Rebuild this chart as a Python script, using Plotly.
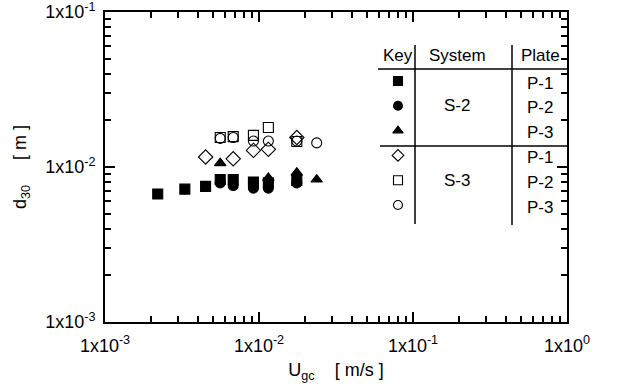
import plotly.graph_objects as go

# Superficial gas velocity U_gc [m/s] and bubble diameter d30 [m]
s2_p1_u = [2.2e-3, 3.3e-3, 4.5e-3, 5.6e-3, 6.8e-3, 9.2e-3, 1.15e-2, 1.76e-2]
s2_p1_d = [6.7e-3, 7.2e-3, 7.5e-3, 8.3e-3, 8.3e-3, 8.0e-3, 7.9e-3, 8.2e-3]

s2_p2_u = [5.6e-3, 6.8e-3, 9.2e-3, 1.15e-2, 1.76e-2]
s2_p2_d = [7.9e-3, 7.6e-3, 7.3e-3, 7.3e-3, 7.9e-3]

s2_p3_u = [5.6e-3, 1.15e-2, 1.76e-2, 2.37e-2]
s2_p3_d = [1.06e-2, 8.5e-3, 9.2e-3, 8.3e-3]

s3_p1_u = [4.5e-3, 6.8e-3, 9.2e-3, 1.15e-2, 1.76e-2]
s3_p1_d = [1.16e-2, 1.13e-2, 1.28e-2, 1.30e-2, 1.55e-2]

s3_p2_u = [5.6e-3, 6.8e-3, 9.2e-3, 1.15e-2, 1.76e-2]
s3_p2_d = [1.55e-2, 1.57e-2, 1.60e-2, 1.80e-2, 1.46e-2]

s3_p3_u = [5.6e-3, 6.8e-3, 9.2e-3, 1.15e-2, 1.76e-2, 2.37e-2]
s3_p3_d = [1.53e-2, 1.55e-2, 1.47e-2, 1.47e-2, 1.47e-2, 1.43e-2]

x_major = [1e-3, 1e-2, 1e-1, 1e0]
x_labels = ["1x10<sup>-3</sup>", "1x10<sup>-2</sup>", "1x10<sup>-1</sup>", "1x10<sup>0</sup>"]
y_major = [1e-3, 1e-2, 1e-1]
y_labels = ["1x10<sup>-3</sup>", "1x10<sup>-2</sup>", "1x10<sup>-1</sup>"]

# Key table rows: system, plate, marker symbol
systems = ["S-2", "S-3"]
plates = ["P-1", "P-2", "P-3"]
key_symbols = ["square", "circle", "triangle-up",
               "diamond-open", "square-open", "circle-open"]

FONT = "Liberation Sans, Arial, sans-serif"

series = [
    (s2_p1_u, s2_p1_d, "square", 10),
    (s2_p2_u, s2_p2_d, "circle", 10),
    (s2_p3_u, s2_p3_d, "triangle-up", 10),
    (s3_p1_u, s3_p1_d, "diamond-open", 11),
    (s3_p2_u, s3_p2_d, "square-open", 10),
    (s3_p3_u, s3_p3_d, "circle-open", 10),
]

fig = go.Figure()
for u, d, sym, sz in series:
    fig.add_trace(go.Scatter(
        x=u, y=d, mode="markers", showlegend=False,
        marker=dict(symbol=sym, size=sz, color="black",
                    line=dict(color="black", width=1.1)),
    ))


def minor_ticks(lo, hi):
    vals = []
    for e in range(lo, hi):
        for k in range(2, 10):
            vals.append(k * 10.0 ** e)
    return vals


axis_common = dict(
    type="log", showgrid=False, zeroline=False, automargin=False,
    showline=True, linecolor="black", linewidth=2, mirror="allticks",
    ticks="inside", ticklen=10, tickwidth=1.5, tickcolor="black",
    tickmode="array", ticklabeloverflow="allow",
    tickfont=dict(family=FONT, size=18, color="black"),
)

fig.update_xaxes(
    **axis_common, range=[-3, 0], tickvals=x_major, ticktext=x_labels,
    ticklabelstandoff=6,
    minor=dict(tickmode="array", tickvals=minor_ticks(-3, 0), ticks="inside",
               ticklen=6, tickwidth=1.5, tickcolor="black"),
    title=dict(text="U<sub>gc</sub>    [ m/s ]",
               font=dict(family=FONT, size=18, color="black"), standoff=9),
)
fig.update_yaxes(
    **axis_common, range=[-3, -1], tickvals=y_major, ticktext=y_labels,
    ticklabelstandoff=4,
    minor=dict(tickmode="array", tickvals=minor_ticks(-3, -1), ticks="inside",
               ticklen=6, tickwidth=1.5, tickcolor="black"),
    title=dict(text="d<sub>30</sub>     [ m ]",
               font=dict(family=FONT, size=18, color="black"), standoff=14),
)

# Overlay axes in pixel units (x right, y down) for the key table
PX_L, PX_R, PX_T, PX_B = 105, 567, 12, 322
fig.update_layout(
    xaxis2=dict(overlaying="x", range=[PX_L, PX_R], visible=False,
                showgrid=False, zeroline=False, automargin=False),
    yaxis2=dict(overlaying="y", range=[PX_B, PX_T], visible=False,
                showgrid=False, zeroline=False, automargin=False),
)

key_x, system_x, plate_x = 398, 457, 540
header_y, row0_y, row_step = 55, 81, 24.8
row_y = [row0_y + i * row_step for i in range(len(key_symbols))]

fig.add_trace(go.Scatter(
    x=[key_x] * len(key_symbols), y=row_y, mode="markers",
    xaxis="x2", yaxis="y2", showlegend=False,
    marker=dict(symbol=key_symbols, size=9, color="black",
                line=dict(color="black", width=1.1)),
))

line_style = dict(color="black", width=1.5)
table_lines = [
    (378, 69, 567, 69),
    (380, 146, 570, 146),
    (415, 45, 415, 224),
    (512, 45, 512, 225),
]
for x0, y0, x1, y1 in table_lines:
    fig.add_shape(type="line", xref="x2", yref="y2",
                  x0=x0, y0=y0, x1=x1, y1=y1, line=line_style)

txt = dict(xref="x2", yref="y2", showarrow=False,
           font=dict(family=FONT, size=17, color="black"))
for label, x in (("Key", key_x), ("System", system_x), ("Plate", plate_x)):
    fig.add_annotation(text=label, x=x, y=header_y, **txt)
for i, s in enumerate(systems):
    fig.add_annotation(text=s, x=system_x, y=row_y[3 * i + 1], **txt)
for i in range(len(key_symbols)):
    fig.add_annotation(text=plates[i % 3], x=plate_x, y=row_y[i] + 2, **txt)

fig.update_layout(
    width=625, height=388,
    margin=dict(l=PX_L, r=625 - PX_R, t=PX_T, b=388 - PX_B),
    paper_bgcolor="white", plot_bgcolor="white",
    font=dict(family=FONT, color="black"),
)

fig.write_html("out.html")
